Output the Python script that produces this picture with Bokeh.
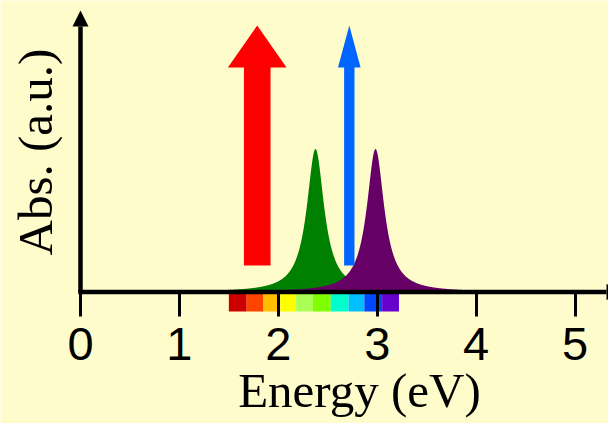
import numpy as np
from bokeh.plotting import figure
from bokeh.models import Arrow, NormalHead, FixedTicker, Label, LinearAxis, Range1d
from bokeh.embed import file_html
from bokeh.resources import INLINE

# ---------------- data ----------------
tick_values = [0, 1, 2, 3, 4, 5]
peak_centers = [2.376, 2.983]          # eV
peak_hwhm = [0.107, 0.107]             # eV
peak_heights = [1.0, 1.0]              # a.u.
peak_colors = ["#008000", "#660066"]
photon_energies = [1.787, 2.718]       # eV
photon_bottom = [0.185, 0.185]         # a.u.
photon_top = [1.864, 1.864]            # a.u.
photon_colors = ["#FF0000", "#0066FF"]
spectrum_edges = [1.50, 1.68, 1.85, 2.02, 2.18, 2.35, 2.53, 2.71, 2.87, 3.05, 3.22]
spectrum_colors = ["#CC0000", "#FF4400", "#FFBF00", "#FFFF00", "#AAFF55",
                   "#80FF00", "#00FFCC", "#00BFFF", "#0048FF", "#6600CC"]
x_label = "Energy (eV)"
y_label = "Abs. (a.u.)"

# ---------------- geometry / style ----------------
W, H = 608, 423
X0_PX = 80.0          # pixel of x = 0 from the left edge
PX_PER_EV = 98.9
Y0_PX = 131.5         # pixel of y = 0 from the bottom edge
PX_PER_AU = 143.0
BG = "#FFFCCC"

def dx(px):
    return px / PX_PER_EV

def dy(px):
    return px / PX_PER_AU

p = figure(width=W, height=H, output_backend="svg", toolbar_location=None,
           x_axis_type=None, y_axis_type=None,
           x_range=Range1d(-X0_PX / PX_PER_EV, (W - X0_PX) / PX_PER_EV),
           y_range=Range1d(-Y0_PX / PX_PER_AU, (H - Y0_PX) / PX_PER_AU),
           min_border=0)
p.background_fill_color = BG
p.border_fill_color = BG
p.outline_line_color = None
p.grid.visible = False

# spectrum bar below the axis
p.quad(left=spectrum_edges[:-1], right=spectrum_edges[1:],
       bottom=-dy(19.5), top=0, fill_color=spectrum_colors, line_color=None)

# absorption peaks (Lorentzian)
xs = np.linspace(0, 5.6, 2000)
for c, g, h, col in zip(peak_centers, peak_hwhm, peak_heights, peak_colors):
    ys = h * g ** 2 / ((xs - c) ** 2 + g ** 2)
    p.varea(x=xs, y1=0, y2=ys, fill_color=col)

# photon arrows
shaft_half_px = [13.3, 5.2]
head_half_px = [29.3, 11.3]
head_len_px = 42
arr_xs, arr_ys = [], []
for e, b, t, sh, hh in zip(photon_energies, photon_bottom, photon_top, shaft_half_px, head_half_px):
    hb = t - dy(head_len_px)
    arr_xs.append([e - dx(sh), e + dx(sh), e + dx(sh), e + dx(hh), e, e - dx(hh), e - dx(sh)])
    arr_ys.append([b, b, hb, hb, t, hb, hb])
p.patches(arr_xs, arr_ys, fill_color=photon_colors, line_color=None)

# x axis with ticks at y = 0
xaxis = LinearAxis(fixed_location=0, ticker=FixedTicker(ticks=tick_values, minor_ticks=[]))
xaxis.axis_line_color = None
xaxis.major_tick_out = 24
xaxis.major_tick_in = 0
xaxis.major_tick_line_width = 3
xaxis.major_tick_line_color = "black"
xaxis.minor_tick_line_color = None
xaxis.major_label_text_font = "Liberation Sans"
xaxis.major_label_text_font_size = "47px"
xaxis.major_label_text_color = "black"
xaxis.major_label_standoff = 12
p.add_layout(xaxis, "below")

# axis lines with arrow heads
AXW = 4.5
p.add_layout(Arrow(x_start=-dx(AXW / 2), y_start=0, x_end=dx(622 - 80), y_end=0,
                   line_width=AXW, line_color="black",
                   end=NormalHead(size=16, fill_color="black", line_color="black", line_width=0)))
p.add_layout(Arrow(x_start=0, y_start=0, x_end=0, y_end=dy(281.5),
                   line_width=AXW, line_color="black",
                   end=NormalHead(size=16, fill_color="black", line_color="black", line_width=0)))

# axis titles
LABEL_SHIFT = 20
p.add_layout(Label(x=dx(359 - 80), y=-dy(410 - LABEL_SHIFT - 291.5), text=x_label,
                   text_font="Liberation Serif", text_font_size="49px",
                   text_align="center", text_baseline="alphabetic", text_color="black"))
p.add_layout(Label(x=-dx(80 - 55 + LABEL_SHIFT), y=dy(291.5 - 151.5), text=y_label, angle=np.pi / 2,
                   text_font="Liberation Serif", text_font_size="49px",
                   text_align="center", text_baseline="alphabetic", text_color="black"))

open("out.html", "w").write(file_html(p, INLINE))
